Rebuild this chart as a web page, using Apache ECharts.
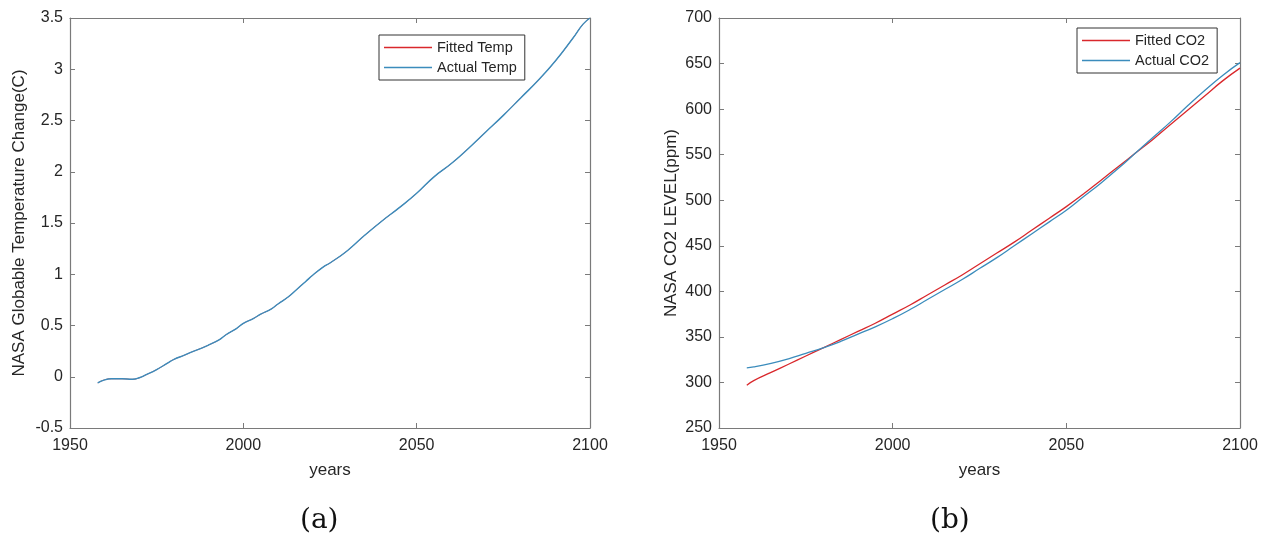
<!DOCTYPE html>
<html>
<head>
<meta charset="utf-8">
<script src="https://cdn.jsdelivr.net/npm/echarts@6/dist/echarts.min.js"></script>
<style>
  html, body { margin: 0; padding: 0; background: #fff; }
  #chart { width: 1265px; height: 548px; }
</style>
</head>
<body>
<div id="chart"></div>
<script>
// (a) temperature change
var tempYears = [1958, 1960, 1962, 1965, 1968, 1970, 1972, 1975, 1978, 1980, 1983, 1985, 1988, 1990, 1993, 1995, 1998, 2000,
                 2003, 2005, 2008, 2010, 2013, 2015, 2018, 2020, 2023, 2025, 2030, 2035, 2040, 2045, 2050, 2055, 2060,
                 2065, 2070, 2075, 2080, 2085, 2090, 2095, 2098, 2100];
var actualTemp = [-0.06, -0.03, -0.02, -0.02, -0.025, -0.01, 0.02, 0.07, 0.13, 0.17, 0.21, 0.24, 0.28, 0.31, 0.36, 0.41, 0.47, 0.52,
                  0.57, 0.61, 0.66, 0.71, 0.78, 0.84, 0.93, 0.99, 1.07, 1.11, 1.23, 1.38, 1.52, 1.65, 1.79, 1.95, 2.08,
                  2.23, 2.39, 2.55, 2.72, 2.89, 3.08, 3.30, 3.44, 3.50];
var fittedTemp = actualTemp.slice(); // fitted line sits exactly under the actual one

// (b) CO2 level
var co2Years = [1958, 1960, 1965, 1970, 1975, 1980, 1985, 1990, 1995, 2000, 2005, 2010, 2015, 2020, 2025,
                2030, 2035, 2040, 2045, 2050, 2055, 2060, 2065, 2070, 2075, 2080, 2085, 2090, 2095, 2100];
var fittedCO2 = [297, 302, 311, 320, 329, 338, 347, 356, 365, 375, 385, 396, 407, 418, 430,
                 442, 454, 467, 480, 493, 507, 522, 537, 552, 567, 583, 599, 615, 631, 645];
var actualCO2 = [316, 317, 321, 326, 332, 338, 345, 353, 361, 370, 380, 391, 402, 413, 425,
                 437, 450, 463, 476, 489, 504, 519, 535, 552, 569, 586, 604, 621, 637, 651];

function pairs(xs, ys) {
    return xs.map(function (x, i) { return [x, ys[i]]; });
}

var axisGrey = '#7a7a7a';
var labelColor = '#262626';
var font = 'Liberation Sans, Arial, sans-serif';
var red = '#d9282c';
var blue = '#3b8cbc';

function xAx(grid, bottom) {
    return {
        type: 'value', gridIndex: grid, min: 1950, max: 2100, interval: 50,
        position: bottom ? 'bottom' : 'top',
        name: bottom ? 'years' : '', nameLocation: 'middle', nameGap: 34,
        nameTextStyle: { color: labelColor, fontSize: 17, fontFamily: font },
        axisLine: { show: true, onZero: false, lineStyle: { color: axisGrey, width: 1.2 } },
        axisTick: { show: true, inside: true, length: 5, lineStyle: { color: axisGrey } },
        axisLabel: { show: bottom, color: labelColor, fontSize: 16, fontFamily: font, margin: 10,
                     formatter: function (v) { return v; } },
        splitLine: { show: false }
    };
}

function yAx(grid, left, min, max, step, name, gap) {
    return {
        type: 'value', gridIndex: grid, min: min, max: max, interval: step,
        position: left ? 'left' : 'right',
        name: left ? name : '', nameLocation: 'middle', nameGap: gap,
        nameTextStyle: { color: labelColor, fontSize: 17, fontFamily: font },
        axisLine: { show: true, onZero: false, lineStyle: { color: axisGrey, width: 1.2 } },
        axisTick: { show: true, inside: true, length: 5, lineStyle: { color: axisGrey } },
        axisLabel: { show: left, color: labelColor, fontSize: 16, fontFamily: font, margin: 7 },
        splitLine: { show: false }
    };
}

function lineSeries(name, data, color, xi, yi, w) {
    return {
        name: name, type: 'line', data: data, xAxisIndex: xi, yAxisIndex: yi,
        smooth: true, symbol: 'none', silent: true,
        lineStyle: { color: color, width: w }, itemStyle: { color: color }
    };
}

var legendCommon = {
    orient: 'vertical', icon: 'rect', itemWidth: 48, itemHeight: 1.5, itemGap: 5,
    backgroundColor: '#fff', borderColor: '#333', borderWidth: 1,
    padding: [5, 8, 5, 5],
    textStyle: { color: labelColor, fontSize: 14.5, fontFamily: font }
};

var chart = echarts.init(document.getElementById('chart'));
chart.setOption({
    animation: false,
    backgroundColor: '#fff',
    grid: [
        { left: 70, top: 18, width: 520, height: 410 },
        { left: 719, top: 18, width: 521, height: 410 }
    ],
    xAxis: [xAx(0, true), xAx(0, false), xAx(1, true), xAx(1, false)],
    yAxis: [
        yAx(0, true, -0.5, 3.5, 0.5, 'NASA Globable Temperature Change(C)', 42),
        yAx(0, false, -0.5, 3.5, 0.5, '', 0),
        yAx(1, true, 250, 700, 50, 'NASA CO2 LEVEL(ppm)', 39),
        yAx(1, false, 250, 700, 50, '', 0)
    ],
    legend: [
        Object.assign({ data: ['Fitted Temp', 'Actual Temp'], left: 379, top: 35 }, legendCommon),
        Object.assign({ data: ['Fitted CO2', 'Actual CO2'], left: 1077, top: 28 }, legendCommon)
    ],
    series: [
        lineSeries('Fitted Temp', pairs(tempYears, fittedTemp), red, 0, 0, 0.8),
        lineSeries('Actual Temp', pairs(tempYears, actualTemp), blue, 0, 0, 1.4),
        lineSeries('Fitted CO2', pairs(co2Years, fittedCO2), red, 2, 2, 1.3),
        lineSeries('Actual CO2', pairs(co2Years, actualCO2), blue, 2, 2, 1.3)
    ],
    graphic: [
        { type: 'text', left: 300, top: 507, style: { text: '(a)', font: '28px "DejaVu Serif", serif', fill: '#111' } },
        { type: 'text', left: 930, top: 507, style: { text: '(b)', font: '28px "DejaVu Serif", serif', fill: '#111' } }
    ]
});
</script>
</body>
</html>
